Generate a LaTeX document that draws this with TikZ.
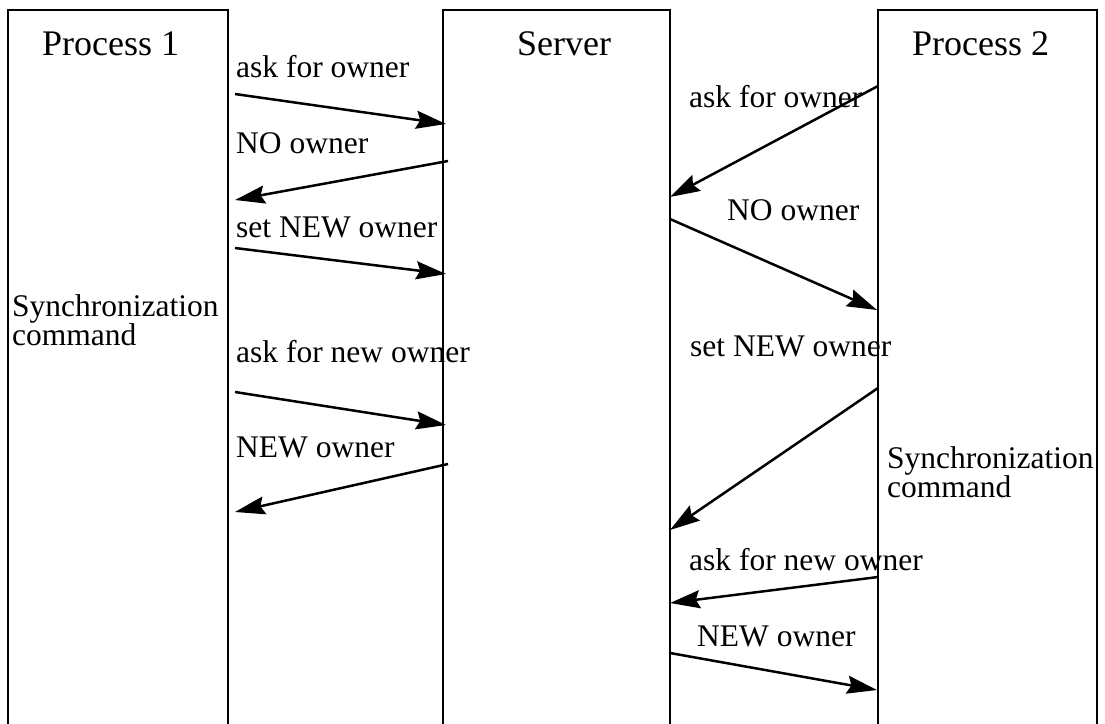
\documentclass[tikz,border=0pt]{standalone}
\usepackage{fontspec}
\setmainfont{Liberation Serif}
\usetikzlibrary{arrows.meta}
\begin{document}
\begin{tikzpicture}[x=1pt,y=-1pt,
  lane/.style={line width=2.6pt},
  msg/.style={line width=2.5pt,-{Stealth[length=30pt,width=18pt,inset=4pt]}},
  ttl/.style={anchor=base west,inner sep=0pt,font=\fontsize{36}{40}\selectfont},
  lbl/.style={anchor=base west,inner sep=0pt,font=\fontsize{31.5}{34}\selectfont},
  lbl2/.style={anchor=north west,inner sep=0pt,align=left,font=\fontsize{31.5}{26}\selectfont}]
\useasboundingbox (0,0) rectangle (1105,723);
\fill[white] (0,0) rectangle (1105,723);
% lanes (open at the bottom)
\draw[lane] (8,724) -- (8,10) -- (228,10) -- (228,724);
\draw[lane] (443,724) -- (443,10) -- (670,10) -- (670,724);
\draw[lane] (878,724) -- (878,10) -- (1097,10) -- (1097,724);
% titles
\node[ttl] (t1) at (42,55) {Process 1};
\node[ttl] (t2) at (517,55) {Server};
\node[ttl] (t3) at (912,55) {Process 2};
% endpoints
\coordinate (a1s) at (235,94);  \coordinate (a1e) at (446,124);
\coordinate (a2s) at (448,161); \coordinate (a2e) at (235,200);
\coordinate (a3s) at (235,248); \coordinate (a3e) at (446,274);
\coordinate (a4s) at (235,392); \coordinate (a4e) at (446,425);
\coordinate (a5s) at (448,464); \coordinate (a5e) at (235,512);
\coordinate (b1s) at (878,86);  \coordinate (b1e) at (670,197);
\coordinate (b2s) at (670,219); \coordinate (b2e) at (877,310);
\coordinate (b3s) at (878,388); \coordinate (b3e) at (670,530);
\coordinate (b4s) at (878,577); \coordinate (b4e) at (670,603);
\coordinate (b5s) at (670,653); \coordinate (b5e) at (877,690);
% left messages
\node[lbl] (l1) at (236,77) {ask for owner};
\draw[msg] (a1s) -- (a1e);
\node[lbl] (l2) at (236,153) {NO owner};
\draw[msg] (a2s) -- (a2e);
\node[lbl] (l3) at (236,237) {set NEW owner};
\draw[msg] (a3s) -- (a3e);
\node[lbl2] (l4) at (12,294) {Synchronization\\command};
\node[lbl] (l5) at (236,362) {ask for new owner};
\draw[msg] (a4s) -- (a4e);
\node[lbl] (l6) at (236,457) {NEW owner};
\draw[msg] (a5s) -- (a5e);
% right messages
\node[lbl] (r1) at (689,107) {ask for owner};
\draw[msg] (b1s) -- (b1e);
\node[lbl] (r2) at (727,220) {NO owner};
\draw[msg] (b2s) -- (b2e);
\node[lbl] (r3) at (690,356) {set NEW owner};
\draw[msg] (b3s) -- (b3e);
\node[lbl2] (r4) at (887,446) {Synchronization\\command};
\node[lbl] (r5) at (689,570) {ask for new owner};
\draw[msg] (b4s) -- (b4e);
\node[lbl] (r6) at (697,646) {NEW owner};
\draw[msg] (b5s) -- (b5e);
\end{tikzpicture}
\end{document}
